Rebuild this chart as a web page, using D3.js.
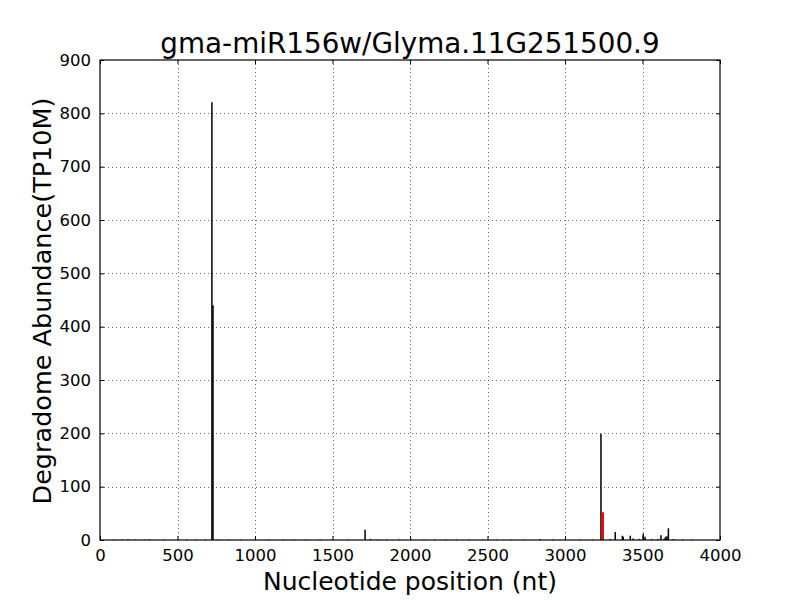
<!DOCTYPE html>
<html><head><meta charset="utf-8">
<script src="https://cdn.jsdelivr.net/npm/d3@7"></script>
<style>body{margin:0;background:#fff;} text{font-family:"DejaVu Sans",sans-serif;}</style>
</head><body>
<svg id="c" width="800" height="600"></svg>
<script>
const title = "gma-miR156w/Glyma.11G251500.9";
const xLabel = "Nucleotide position (nt)";
const yLabel = "Degradome Abundance(TP10M)";
const xTicks = [0,500,1000,1500,2000,2500,3000,3500,4000];
const yTicks = [0,100,200,300,400,500,600,700,800,900];
// black bars: positions and abundances
const positions = [90,140,180,230,290,320,410,505,560,620,680,722,729,760,830,905,1000,1090,1180,1250,1330,1420,1500,1600,1710,1745,1790,1850,1930,2010,2090,2160,2230,2300,2380,2470,2560,2650,2740,2840,2920,3000,3100,3180,3232,3290,3324,3370,3376,3421,3440,3480,3505,3516,3559,3600,3619,3640,3649,3658,3667,3700,3760,3820];
const values    = [1,1,1,1,1,1,1,1,1,1,1,821,440,1,1,1,1,1,1,1,1,1,1,1,19,2,1,1,1,1,1,1,1,1,1,1,1,1,1,2,1,1,1,1,199,2,15,8,6,8,3,2,12,6,2,2,9,3,6,7,22,2,1,1];
// target site (red)
const targetPos = [3242];
const targetVal = [52];

const svg = d3.select("#c");
const m = {l:100, t:60, r:720, b:540};
const x = d3.scaleLinear().domain([0,4000]).range([m.l, m.r]);
const y = d3.scaleLinear().domain([0,900]).range([m.b, m.t]);

// grid
const g = svg.append("g");
g.selectAll(".gx").data(xTicks.slice(1,-1)).enter().append("line")
 .attr("x1",d=>Math.round(x(d))+0.5).attr("x2",d=>Math.round(x(d))+0.5)
 .attr("y1",m.t).attr("y2",m.b).attr("stroke","#000").attr("stroke-width",0.6).attr("stroke-dasharray","1,3");
g.selectAll(".gy").data(yTicks.slice(1,-1)).enter().append("line")
 .attr("y1",d=>Math.round(y(d))+0.5).attr("y2",d=>Math.round(y(d))+0.5)
 .attr("x1",m.l).attr("x2",m.r).attr("stroke","#000").attr("stroke-width",0.6).attr("stroke-dasharray","1,3");

// bars
svg.append("g").selectAll("line").data(positions.map((p,i)=>[p,values[i]])).enter().append("line")
 .attr("x1",d=>x(d[0])).attr("x2",d=>x(d[0]))
 .attr("y1",y(0)).attr("y2",d=>y(d[1])).attr("stroke","#000").attr("stroke-width",1.5);
svg.append("g").selectAll("rect").data(targetPos.map((p,i)=>[p,targetVal[i]])).enter().append("rect")
 .attr("x",d=>x(d[0])-1).attr("width",2.5)
 .attr("y",d=>y(d[1])).attr("height",d=>y(0)-y(d[1])).attr("fill","#ff0000");

// axes (inward ticks, all sides)
const fs = 16.5;
const xb = svg.append("g").attr("transform",`translate(0,${m.b})`)
 .call(d3.axisBottom(x).tickValues(xTicks).tickSize(-4).tickPadding(9).tickFormat(d3.format("d")));
const xt = svg.append("g").attr("transform",`translate(0,${m.t})`)
 .call(d3.axisTop(x).tickValues(xTicks).tickSize(-4).tickFormat(""));
const yl = svg.append("g").attr("transform",`translate(${m.l},0)`)
 .call(d3.axisLeft(y).tickValues(yTicks).tickSize(-4).tickPadding(9).tickFormat(d3.format("d")));
const yr = svg.append("g").attr("transform",`translate(${m.r},0)`)
 .call(d3.axisRight(y).tickValues(yTicks).tickSize(-4).tickFormat(""));
[xb,xt,yl,yr].forEach(a=>{
  a.select(".domain").remove();
  a.selectAll("line").attr("stroke","#000");
  a.selectAll("text").attr("font-size",fs).attr("fill","#000").attr("font-family","DejaVu Sans");
});
svg.append("rect").attr("x",m.l).attr("y",m.t).attr("width",m.r-m.l).attr("height",m.b-m.t)
 .attr("fill","none").attr("stroke","#000").attr("stroke-width",1.2);

svg.append("text").attr("x",(m.l+m.r)/2).attr("y",53).attr("text-anchor","middle")
 .attr("font-size",27.8).text(title);
svg.append("text").attr("x",(m.l+m.r)/2).attr("y",590).attr("text-anchor","middle")
 .attr("font-size",25).text(xLabel);
svg.append("text").attr("transform",`translate(51,${(m.t+m.b)/2 + 1}) rotate(-90)`).attr("text-anchor","middle")
 .attr("font-size",25.5).text(yLabel);
</script>
</body></html>
